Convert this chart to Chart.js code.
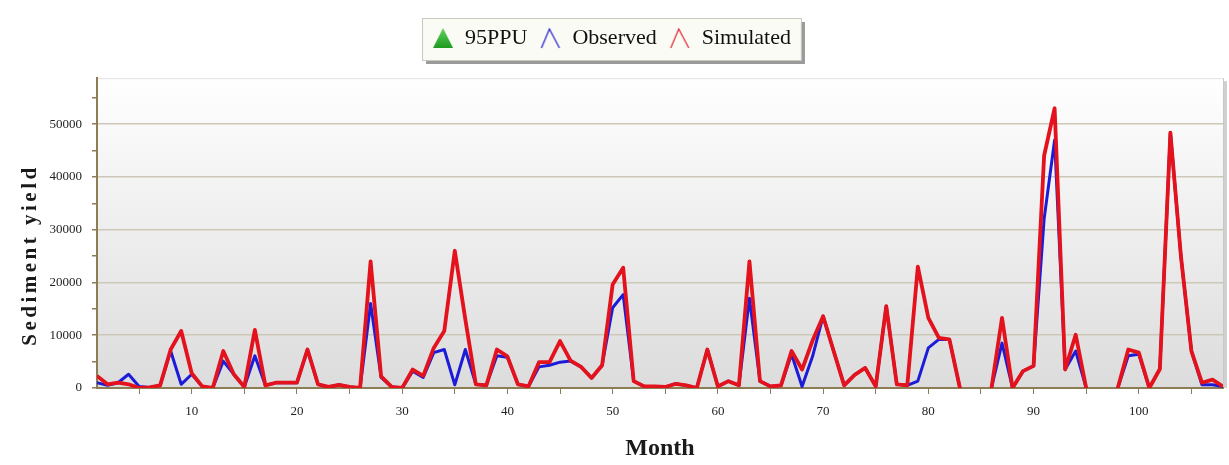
<!DOCTYPE html>
<html>
<head>
<meta charset="utf-8">
<title>Sediment yield</title>
<script src="https://cdn.jsdelivr.net/npm/chart.js@4"></script>
<style>
    html, body { margin: 0; padding: 0; background: #ffffff; }
    #wrap { width: 1229px; height: 465px; position: relative; }
</style>
</head>
<body>
<div id="wrap"><canvas id="sedChart" width="1229" height="465"></canvas></div>
<script>
// Monthly sediment yield, months 1..108 (null = no record)
const months = Array.from({ length: 108 }, (_, i) => i + 1);

const simulated = [
    2300, 700, 1000, 700, 0, 100, 500, 7300, 10800, 2800,
    300, 0, 7000, 2600, 200, 11000, 500, 1000, 1000, 1000,
    7300, 700, 200, 600, 200, 0, 24000, 2200, 200, 0,
    3500, 2300, 7600, 10800, 26000, 13000, 700, 500, 7300, 6000,
    700, 300, 4900, 4900, 8900, 5200, 4000, 1900, 4300, 19600,
    22800, 1300, 300, 300, 200, 800, 500, 0, 7300, 300,
    1300, 500, 24000, 1300, 300, 500, 7000, 3500, 9000, 13600,
    7000, 500, 2500, 3800, 300, 15500, 700, 500, 23000, 13300,
    9500, 9200, 0, null, null, 0, 13300, 0, 3200, 4200,
    44000, 53000, 3500, 10100, 0, null, null, 0, 7300, 6700,
    0, 3600, 48400, 25000, 7000, 1000, 1600, 300
];

const observed = [
    1000, 500, 1000, 2600, 300, 100, 500, 7000, 700, 2600,
    300, 0, 5100, 2600, 200, 6100, 500, 1000, 1000, 1000,
    7300, 700, 200, 600, 200, 0, 16000, 2000, 200, 0,
    3200, 2000, 6700, 7300, 600, 7300, 700, 500, 6100, 5800,
    700, 300, 4000, 4300, 4900, 5100, 4000, 1900, 4300, 15200,
    17700, 1300, 300, 300, 200, 800, 500, 0, 7300, 300,
    1300, 500, 17000, 1300, 300, 500, 6400, 300, 6000, 13600,
    7000, 500, 2500, 3800, 300, 15500, 700, 500, 1300, 7600,
    9200, 9200, 0, null, null, 0, 8500, 0, 3200, 4200,
    32000, 47000, 3500, 7000, 0, null, null, 0, 6100, 6400,
    0, 3600, 48400, 25000, 7000, 600, 600, 300
];

const yTicks = [0, 10000, 20000, 30000, 40000, 50000];
const xTicks = [10, 20, 30, 40, 50, 60, 70, 80, 90, 100];

const SERIF = '"Liberation Serif", "DejaVu Serif", serif';
const AXIS_COLOR = '#8c7d55';
const GRID_COLOR = '#cdc7b8';

// Legend glyphs
const makeIcon = (color, filled) => {
    const c = document.createElement('canvas');
    c.width = 22;
    c.height = 24;
    const g = c.getContext('2d');
    g.beginPath();
    if (filled) {
        g.moveTo(1, 22);
        g.lineTo(11, 2);
        g.lineTo(21, 22);
        g.closePath();
        const grad = g.createLinearGradient(0, 2, 0, 22);
        grad.addColorStop(0, '#5fd35f');
        grad.addColorStop(1, '#1f9a1f');
        g.fillStyle = grad;
        g.fill();
    } else {
        g.moveTo(2, 22);
        g.lineTo(10, 3);
        g.lineTo(20, 22);
        g.strokeStyle = color;
        g.lineWidth = 1.3;
        g.stroke();
    }
    return c;
};

const ppuIcon = makeIcon('#2fa52f', true);
const obsIcon = makeIcon('#2a2ad0', false);
const simIcon = makeIcon('#e0303a', false);

// Plot backdrop, legend frame and frame shadow
const backdrop = {
    id: 'backdrop',
    beforeDraw(chart) {
        const { ctx, chartArea: a, legend } = chart;
        ctx.save();
        const grad = ctx.createLinearGradient(0, a.top, 0, a.bottom);
        grad.addColorStop(0, '#ffffff');
        grad.addColorStop(1, '#dcdcdc');
        ctx.fillStyle = grad;
        ctx.fillRect(a.left, a.top, a.right - a.left, a.bottom - a.top);

        ctx.strokeStyle = '#e2e2e2';
        ctx.lineWidth = 1;
        ctx.beginPath();
        ctx.moveTo(a.left, a.top + 0.5);
        ctx.lineTo(a.right, a.top + 0.5);
        ctx.stroke();

        // right edge with soft shadow
        ctx.strokeStyle = '#c8c8c8';
        ctx.beginPath();
        ctx.moveTo(a.right + 0.5, a.top);
        ctx.lineTo(a.right + 0.5, a.bottom);
        ctx.stroke();
        ctx.fillStyle = 'rgba(120,120,120,0.35)';
        ctx.fillRect(a.right + 1, a.top + 3, 3, a.bottom - a.top - 3);

        if (legend && legend.legendHitBoxes && legend.legendHitBoxes.length) {
            const boxes = legend.legendHitBoxes;
            const x0 = Math.min(...boxes.map(b => b.left)) - 10;
            const x1 = Math.max(...boxes.map(b => b.left + b.width)) + 10;
            const y0 = Math.min(...boxes.map(b => b.top)) - 9;
            const y1 = Math.max(...boxes.map(b => b.top + b.height)) + 11;
            ctx.fillStyle = '#9a9a9a';
            ctx.fillRect(x0 + 4, y0 + 4, x1 - x0, y1 - y0);
            ctx.fillStyle = '#fbfbf6';
            ctx.fillRect(x0, y0, x1 - x0, y1 - y0);
            ctx.strokeStyle = '#c9c9c0';
            ctx.strokeRect(x0 + 0.5, y0 + 0.5, x1 - x0, y1 - y0);
        }
        ctx.restore();
    }
};

// Vertical axis title, letter-spaced
const yTitle = {
    id: 'yTitle',
    afterDraw(chart) {
        const { ctx } = chart;
        ctx.save();
        ctx.translate(31, 255);
        ctx.rotate(-Math.PI / 2);
        ctx.font = 'bold 21px ' + SERIF;
        ctx.letterSpacing = '3.5px';
        ctx.fillStyle = '#1a1a1a';
        ctx.textAlign = 'center';
        ctx.textBaseline = 'middle';
        ctx.fillText('Sediment yield', 0, 0);
        ctx.restore();
    }
};

const ctx = document.getElementById('sedChart').getContext('2d');

new Chart(ctx, {
    type: 'line',
    data: {
        labels: months,
        datasets: [
            {
                label: '95PPU',
                data: [],
                order: 3,
                pointStyle: ppuIcon,
                backgroundColor: '#2fa52f',
                borderColor: '#2fa52f'
            },
            {
                label: 'Observed',
                data: months.map((m, i) => ({ x: m, y: observed[i] })),
                order: 2,
                borderColor: '#1c1cd8',
                backgroundColor: '#1c1cd8',
                borderWidth: 3,
                borderJoinStyle: 'round',
                pointRadius: 0,
                pointStyle: obsIcon,
                tension: 0
            },
            {
                label: 'Simulated',
                data: months.map((m, i) => ({ x: m, y: simulated[i] })),
                order: 1,
                borderColor: '#e3121c',
                backgroundColor: '#e3121c',
                borderWidth: 3.8,
                borderJoinStyle: 'round',
                pointRadius: 0,
                pointStyle: simIcon,
                tension: 0
            }
        ]
    },
    options: {
        responsive: false,
        animation: false,
        spanGaps: false,
        layout: { padding: { top: 15, right: 6, bottom: 0, left: 0 } },
        plugins: {
            tooltip: { enabled: false },
            // empty spacer between legend and plot
            title: {
                display: true,
                text: '',
                weight: 500,
                font: { size: 1 },
                padding: { top: 0, bottom: 18 }
            },
            legend: {
                position: 'top',
                labels: {
                    usePointStyle: true,
                    boxWidth: 22,
                    boxHeight: 22,
                    padding: 12,
                    color: '#111111',
                    font: { family: SERIF, size: 22 },
                    sort: (a, b) => a.datasetIndex - b.datasetIndex
                }
            }
        },
        scales: {
            x: {
                type: 'linear',
                min: 1,
                max: 108,
                afterFit: (scale) => { scale.height = 77; },
                afterBuildTicks: (axis) => {
                    const t = [];
                    for (let v = 5; v <= 105; v += 5) t.push({ value: v });
                    axis.ticks = t;
                },
                grid: {
                    drawOnChartArea: false,
                    tickLength: 6,
                    tickColor: AXIS_COLOR,
                    tickWidth: 1
                },
                border: { color: AXIS_COLOR, width: 2 },
                ticks: {
                    autoSkip: false,
                    maxRotation: 0,
                    padding: 10,
                    color: '#222222',
                    font: { family: SERIF, size: 13 },
                    callback: (v) => (xTicks.includes(v) ? String(v) : '')
                },
                title: {
                    display: true,
                    text: 'Month',
                    color: '#1a1a1a',
                    font: { family: SERIF, size: 24, weight: 'bold' },
                    padding: { top: 0, bottom: 2 }
                }
            },
            y: {
                min: 0,
                max: 58700,
                afterFit: (scale) => { scale.width = 97; },
                afterBuildTicks: (axis) => {
                    const t = [];
                    for (let v = 0; v <= 55000; v += 5000) t.push({ value: v });
                    axis.ticks = t;
                },
                grid: {
                    color: (c) => (c.tick && c.tick.value > 0 && yTicks.includes(c.tick.value) ? GRID_COLOR : 'rgba(0,0,0,0)'),
                    lineWidth: 1.5,
                    tickLength: 5,
                    tickColor: AXIS_COLOR
                },
                border: { color: AXIS_COLOR, width: 2 },
                ticks: {
                    autoSkip: false,
                    padding: 10,
                    color: '#222222',
                    font: { family: SERIF, size: 13 },
                    callback: (v) => (yTicks.includes(v) ? String(v) : '')
                }
            }
        }
    },
    plugins: [backdrop, yTitle]
});
</script>
</body>
</html>
